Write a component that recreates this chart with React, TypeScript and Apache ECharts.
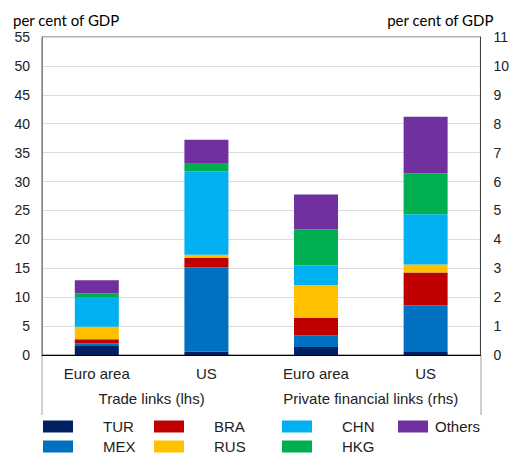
import React, { useEffect, useRef } from "react";
import * as echarts from "echarts";

const categories = ["Euro area", "US", "Euro area", "US"];
const groupLabels = ["Trade links (lhs)", "Private financial links (rhs)"];
const countries = ["TUR", "MEX", "BRA", "RUS", "CHN", "HKG", "Others"];
const colors = ["#002060", "#0070C0", "#C00000", "#FFC000", "#00B0F0", "#00B050", "#7030A0"];
// values per country: [Euro area, US]
const tradeEuro = [1.55, 0.47, 0.69, 2.17, 5.17, 0.58, 2.3];
const tradeUS = [0.57, 14.55, 1.66, 0.58, 14.37, 1.33, 4.19];
const finEuro = [0.28, 0.4, 0.61, 1.13, 0.68, 1.24, 1.21];
const finUS = [0.1, 1.61, 1.14, 0.28, 1.74, 1.41, 1.96];
const leftMax = 55;
const leftInterval = 5;
const rightMax = 11;
const rightInterval = 1;

const FONT = "Liberation Sans";
const GL = 42, GR = 481, GT = 37, GB = 355;

export default function App() {
  const ref = useRef<HTMLDivElement>(null);
  useEffect(() => {
    document.body.style.margin = "0";
    const chart = echarts.init(ref.current!, null, { renderer: "svg" });
    const series: any[] = [];
    countries.forEach((c, i) => {
      series.push({
        name: c,
        type: "bar",
        stack: "trade",
        xAxisIndex: 0,
        yAxisIndex: 0,
        barWidth: 44,
        barGap: "-100%",
        itemStyle: { color: colors[i] },
        data: [tradeEuro[i], tradeUS[i], "-", "-"],
      });
    });
    countries.forEach((c, i) => {
      series.push({
        name: c,
        type: "bar",
        stack: "fin",
        xAxisIndex: 0,
        yAxisIndex: 1,
        barWidth: 44,
        barGap: "-100%",
        itemStyle: { color: colors[i] },
        data: ["-", "-", finEuro[i], finUS[i]],
      });
    });
    const legendCols = [
      { names: ["TUR", "MEX"], left: 43, pad: 25 },
      { names: ["BRA", "RUS"], left: 154, pad: 25 },
      { names: ["CHN", "HKG"], left: 282, pad: 25 },
      { names: ["Others"], left: 398, pad: 2 },
    ];
    chart.setOption({
      animation: false,
      textStyle: { fontFamily: FONT },
      title: [
        { text: "per cent of GDP", left: 8, top: 7, textStyle: { fontFamily: "Lato", fontSize: 15, fontWeight: "normal", color: "#000" } },
        { text: "per cent of GDP", right: 13, top: 7, textStyle: { fontFamily: "Lato", fontSize: 15, fontWeight: "normal", color: "#000" } },
      ],
      legend: legendCols.map((col) => ({
        data: col.names,
        orient: "vertical",
        left: col.left,
        top: 419,
        height: 60,
        padding: 0,
        itemWidth: 30,
        itemHeight: 12,
        itemGap: 5,
        icon: "rect",
        textStyle: { fontFamily: FONT, fontSize: 15, color: "#222", padding: [0, 0, 0, col.pad] },
      })),
      grid: { left: GL, right: 512 - GR, top: GT, bottom: 454 - GB, show: true, borderColor: "#606060", borderWidth: 1 },
      xAxis: [
        {
          type: "category",
          data: categories,
          axisLine: { lineStyle: { color: "#000", width: 1 } },
          axisTick: { show: false },
          axisLabel: { fontFamily: FONT, fontSize: 15, color: "#222", margin: 11, interval: 0, formatter: (_v: string, i: number) => categories[i] },
          splitLine: { show: true, interval: (i: number) => i === 2, lineStyle: { color: "#333", width: 1 } },
        },
        {
          type: "category",
          data: groupLabels,
          position: "bottom",
          offset: 30,
          axisLine: { show: false },
          axisTick: { show: false },
          axisLabel: { fontFamily: FONT, fontSize: 15, color: "#222", margin: 6, interval: 0, hideOverlap: false },
        },
      ],
      yAxis: [
        {
          type: "value",
          min: 0,
          max: leftMax,
          interval: leftInterval,
          axisLine: { show: true, lineStyle: { color: "#808080" } },
          axisTick: { show: false },
          axisLabel: { fontFamily: FONT, fontSize: 14, color: "#222", margin: 12 },
          splitLine: { lineStyle: { color: "#dcdcdc", width: 1 } },
        },
        {
          type: "value",
          min: 0,
          max: rightMax,
          interval: rightInterval,
          position: "right",
          axisLine: { show: true, lineStyle: { color: "#404040" } },
          axisTick: { show: false },
          axisLabel: { fontFamily: FONT, fontSize: 14, color: "#222", margin: 13 },
          splitLine: { show: false },
        },
      ],
      graphic: [
        { type: "line", shape: { x1: GL, y1: GB, x2: GL, y2: 415 }, style: { stroke: "#a0a0a0", lineWidth: 1 } },
        { type: "line", shape: { x1: GR, y1: GB, x2: GR, y2: 415 }, style: { stroke: "#a0a0a0", lineWidth: 1 } },
      ],
      series,
    });
    return () => chart.dispose();
  }, []);
  return <div ref={ref} style={{ width: 512, height: 454 }} />;
}
